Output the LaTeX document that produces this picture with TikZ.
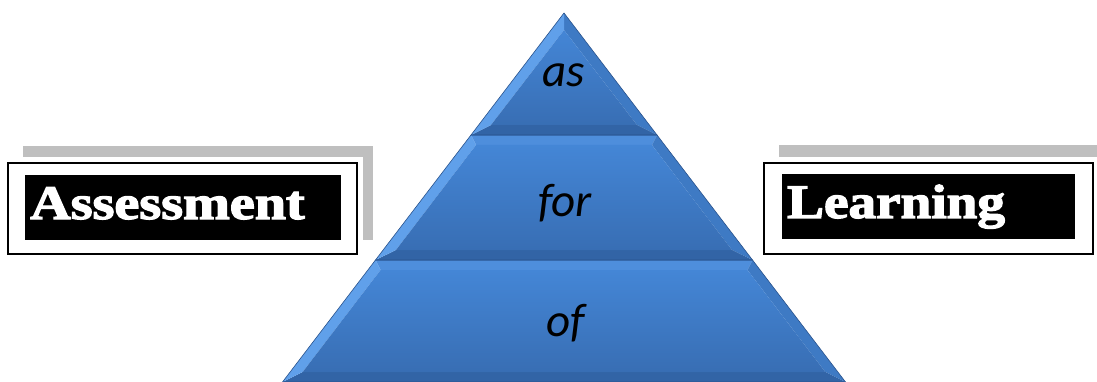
\documentclass[tikz,border=0pt]{standalone}
\usepackage{fontspec}
\newfontfamily\fatface[BoldFeatures={FakeBold=2.5}]{Liberation Serif}
\newfontfamily\calibri{Carlito}
\begin{document}
\begin{tikzpicture}[x=1pt,y=-1pt,
  graybar/.style={fill=black!25,draw=none},
  outerframe/.style={draw=black,line width=1.3pt,fill=white},
  blackbox/.style={fill=black,draw=none},
  boxtext/.style={text=white,inner sep=0pt,anchor=base west,font=\fatface\bfseries\fontsize{48}{48}\selectfont},
  tiertext/.style={text=black,inner sep=0pt,anchor=base,font=\calibri\itshape\fontsize{47}{47}\selectfont},
  face/.style={top color=pyrTop,bottom color=pyrBot,draw=none},
  edge/.style={draw=pyrEdge,line width=0.6pt}]
\definecolor{pyrTop}{RGB}{68,134,214}
\definecolor{pyrBot}{RGB}{56,110,180}
\definecolor{bvLeft}{RGB}{96,160,234}
\definecolor{bvTop}{RGB}{78,142,220}
\definecolor{bvRight}{RGB}{62,122,196}
\definecolor{bvBot}{RGB}{50,100,166}
\definecolor{pyrEdge}{RGB}{40,82,140}
\useasboundingbox (0,0) rectangle (1097,382);

% gray decorative bars
\fill[graybar] (23,146) rectangle (373,157);
\fill[graybar] (363,146) rectangle (373,240);
\fill[graybar] (779,145) rectangle (1097,157);

% left box
\draw[outerframe] (8,163) rectangle (357,254);
\fill[blackbox] (25,175) rectangle (341,240);
\node[boxtext] (assess) at (30,219) {\scalebox{1.17}[1]{Assessment}};

% right box
\draw[outerframe] (764,163) rectangle (1093,254);
\fill[blackbox] (782,174) rectangle (1075,239);
\node[boxtext] (learn) at (787,218) {\scalebox{1.15}[1]{Learning}};

% ---- bottom tier ----
\coordinate (b1) at (375.5,260); \coordinate (b2) at (752.5,260);
\coordinate (b3) at (845.5,382); \coordinate (b4) at (282.5,382);
\coordinate (c1) at (380.5,270); \coordinate (c2) at (747.5,270);
\coordinate (c3) at (825.3,372); \coordinate (c4) at (302.7,372);
\fill[bvTop] (b1) -- (b2) -- (c2) -- (c1) -- cycle;
\fill[bvRight] (b2) -- (b3) -- (c3) -- (c2) -- cycle;
\fill[bvBot] (b3) -- (b4) -- (c4) -- (c3) -- cycle;
\fill[bvLeft] (b4) -- (b1) -- (c1) -- (c4) -- cycle;
\shade[face] (c1) -- (c2) -- (c3) -- (c4) -- cycle;
\draw[edge] (b1) -- (b2) -- (b3) -- (b4) -- cycle;

% ---- middle tier ----
\coordinate (m1) at (471,135); \coordinate (m2) at (657,135);
\coordinate (m3) at (752.5,260); \coordinate (m4) at (375.5,260);
\coordinate (n1) at (476,145); \coordinate (n2) at (652,145);
\coordinate (n3) at (732,250); \coordinate (n4) at (396,250);
\fill[bvTop] (m1) -- (m2) -- (n2) -- (n1) -- cycle;
\fill[bvRight] (m2) -- (m3) -- (n3) -- (n2) -- cycle;
\fill[bvBot] (m3) -- (m4) -- (n4) -- (n3) -- cycle;
\fill[bvLeft] (m4) -- (m1) -- (n1) -- (n4) -- cycle;
\shade[face] (n1) -- (n2) -- (n3) -- (n4) -- cycle;
\draw[edge] (m1) -- (m2) -- (m3) -- (m4) -- cycle;

% ---- top tier ----
\coordinate (t1) at (564,13); \coordinate (t2) at (657,135); \coordinate (t3) at (471,135);
\coordinate (u1) at (564,30); \coordinate (u2) at (637,125); \coordinate (u3) at (491,125);
\fill[bvRight] (t1) -- (t2) -- (u2) -- (u1) -- cycle;
\fill[bvBot] (t2) -- (t3) -- (u3) -- (u2) -- cycle;
\fill[bvLeft] (t3) -- (t1) -- (u1) -- (u3) -- cycle;
\shade[face] (u1) -- (u2) -- (u3) -- cycle;
\draw[edge] (t1) -- (t2) -- (t3) -- cycle;

% tier labels
\node[tiertext] (as) at (564,87) {as};
\node[tiertext] (for) at (565,216) {for};
\node[tiertext] (of) at (566,336) {of};
\end{tikzpicture}
\end{document}
